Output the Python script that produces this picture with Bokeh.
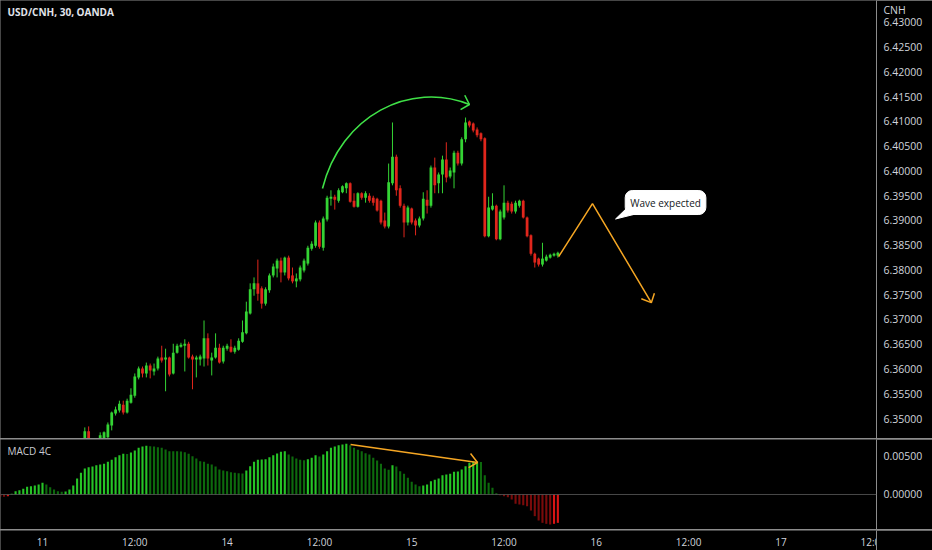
from bokeh.plotting import figure
from bokeh.layouts import column
from bokeh.models import (ColumnDataSource, Range1d, FixedTicker, PrintfTickFormatter,
                          Label, Span)
from bokeh.core.properties import value
from bokeh.embed import file_html
from bokeh.resources import INLINE

# ---------------- data (30-min bars, index 0 = "11" 00:00) ----------------
first_bar = 11
opens = [6.3452, 6.3474, 6.3456, 6.3435, 6.3449, 6.3454, 6.3462, 6.3486, 6.3510, 6.3516,
         6.3528, 6.3512, 6.3532, 6.3546, 6.3583, 6.3601, 6.3591, 6.3607, 6.3595, 6.3601,
         6.3623, 6.3619, 6.3623, 6.3591, 6.3633, 6.3645, 6.3647, 6.3651, 6.3625, 6.3619,
         6.3619, 6.3621, 6.3662, 6.3617, 6.3623, 6.3643, 6.3615, 6.3641, 6.3645, 6.3635,
         6.3639, 6.3655, 6.3672, 6.3712, 6.3761, 6.3773, 6.3763, 6.3732, 6.3759, 6.3789,
         6.3803, 6.3819, 6.3795, 6.3825, 6.3789, 6.3777, 6.3781, 6.3799, 6.3813, 6.3843,
         6.3849, 6.3896, 6.3845, 6.3902, 6.3944, 6.3948, 6.3940, 6.3957, 6.3965, 6.3975,
         6.3940, 6.3928, 6.3955, 6.3946, 6.3950, 6.3946, 6.3944, 6.3940, 6.3900, 6.3888,
         6.3975, 6.4029, 6.3965, 6.3930, 6.3896, 6.3924, 6.3900, 6.3890, 6.3904, 6.3942,
         6.3930, 6.4007, 6.3975, 6.3993, 6.4023, 6.3989, 6.3997, 6.4037, 6.4015, 6.4064,
         6.4100, 6.4096, 6.4084, 6.4076, 6.4066, 6.3868, 6.3922, 6.3930, 6.3862, 6.3906,
         6.3936, 6.3934, 6.3918, 6.3930, 6.3940, 6.3906, 6.3870, 6.3833, 6.3823, 6.3811,
         6.3819, 6.3825, 6.3829, 6.3829]
highs = [6.3482, 6.3484, 6.3457, 6.3458, 6.3472, 6.3474, 6.3492, 6.3514, 6.3524, 6.3536,
         6.3536, 6.3540, 6.3561, 6.3591, 6.3605, 6.3605, 6.3613, 6.3611, 6.3611, 6.3625,
         6.3647, 6.3641, 6.3625, 6.3651, 6.3651, 6.3653, 6.3660, 6.3655, 6.3629, 6.3627,
         6.3629, 6.3698, 6.3672, 6.3633, 6.3672, 6.3651, 6.3647, 6.3651, 6.3660, 6.3647,
         6.3662, 6.3698, 6.3736, 6.3773, 6.3785, 6.3821, 6.3767, 6.3765, 6.3793, 6.3813,
         6.3823, 6.3825, 6.3827, 6.3829, 6.3805, 6.3793, 6.3809, 6.3823, 6.3849, 6.3858,
         6.3900, 6.3900, 6.3908, 6.3950, 6.3961, 6.3952, 6.3965, 6.3971, 6.3977, 6.3977,
         6.3955, 6.3957, 6.3957, 6.3959, 6.3955, 6.3950, 6.3946, 6.3942, 6.3916, 6.4015,
         6.4098, 6.4033, 6.3971, 6.3934, 6.3930, 6.3926, 6.3904, 6.3908, 6.3957, 6.3961,
         6.4011, 6.4027, 6.3997, 6.4031, 6.4058, 6.4007, 6.4041, 6.4041, 6.4068, 6.4108,
         6.4102, 6.4098, 6.4088, 6.4078, 6.4068, 6.3948, 6.3955, 6.3932, 6.3922, 6.3971,
         6.3940, 6.3938, 6.3940, 6.3942, 6.3942, 6.3908, 6.3872, 6.3835, 6.3825, 6.3855,
         6.3831, 6.3833, 6.3835, 6.3837]
lows = [6.3445, 6.3447, 6.3425, 6.3431, 6.3443, 6.3447, 6.3456, 6.3476, 6.3506, 6.3512,
        6.3508, 6.3510, 6.3530, 6.3542, 6.3579, 6.3583, 6.3583, 6.3581, 6.3587, 6.3597,
        6.3613, 6.3555, 6.3585, 6.3589, 6.3631, 6.3643, 6.3595, 6.3621, 6.3559, 6.3583,
        6.3607, 6.3605, 6.3607, 6.3587, 6.3621, 6.3611, 6.3611, 6.3637, 6.3633, 6.3631,
        6.3637, 6.3653, 6.3670, 6.3710, 6.3748, 6.3738, 6.3722, 6.3728, 6.3754, 6.3785,
        6.3785, 6.3775, 6.3789, 6.3779, 6.3773, 6.3765, 6.3777, 6.3795, 6.3809, 6.3839,
        6.3845, 6.3843, 6.3839, 6.3898, 6.3930, 6.3922, 6.3936, 6.3955, 6.3955, 6.3936,
        6.3926, 6.3926, 6.3942, 6.3936, 6.3936, 6.3930, 6.3918, 6.3892, 6.3884, 6.3884,
        6.3971, 6.3950, 6.3926, 6.3866, 6.3890, 6.3892, 6.3870, 6.3886, 6.3900, 6.3914,
        6.3926, 6.3955, 6.3955, 6.3955, 6.3977, 6.3985, 6.3965, 6.4011, 6.4011, 6.4058,
        6.4088, 6.4078, 6.4068, 6.4060, 6.3866, 6.3866, 6.3920, 6.3860, 6.3860, 6.3902,
        6.3916, 6.3914, 6.3914, 6.3926, 6.3904, 6.3866, 6.3829, 6.3805, 6.3807, 6.3807,
        6.3817, 6.3823, 6.3827, 6.3825]
closes = [6.3474, 6.3456, 6.3431, 6.3454, 6.3466, 6.3472, 6.3488, 6.3512, 6.3518, 6.3530,
          6.3512, 6.3536, 6.3548, 6.3585, 6.3601, 6.3591, 6.3607, 6.3597, 6.3601, 6.3621,
          6.3617, 6.3623, 6.3589, 6.3633, 6.3647, 6.3649, 6.3651, 6.3623, 6.3619, 6.3623,
          6.3625, 6.3662, 6.3621, 6.3623, 6.3643, 6.3613, 6.3643, 6.3647, 6.3635, 6.3643,
          6.3657, 6.3674, 6.3716, 6.3761, 6.3773, 6.3752, 6.3732, 6.3761, 6.3789, 6.3807,
          6.3819, 6.3795, 6.3825, 6.3783, 6.3777, 6.3783, 6.3805, 6.3819, 6.3845, 6.3853,
          6.3896, 6.3847, 6.3904, 6.3946, 6.3948, 6.3942, 6.3961, 6.3969, 6.3975, 6.3938,
          6.3928, 6.3955, 6.3946, 6.3955, 6.3940, 6.3936, 6.3920, 6.3896, 6.3888, 6.3977,
          6.4029, 6.3961, 6.3930, 6.3896, 6.3926, 6.3896, 6.3890, 6.3904, 6.3944, 6.3930,
          6.4007, 6.3971, 6.3993, 6.4023, 6.3987, 6.4001, 6.4037, 6.4015, 6.4064, 6.4098,
          6.4092, 6.4082, 6.4072, 6.4064, 6.3868, 6.3926, 6.3930, 6.3862, 6.3918, 6.3936,
          6.3920, 6.3918, 6.3936, 6.3940, 6.3906, 6.3868, 6.3833, 6.3815, 6.3811, 6.3823,
          6.3827, 6.3831, 6.3833, 6.3835]

# MACD 4C histogram, bars from index -11
macd_first = -11
macd_hist = [-0.00026, -0.00031, -0.00022, 0.00009, 0.00044, 0.00057, 0.00075, 0.00101, 0.00110, 0.00118,
             0.00132, 0.00154, 0.00132, 0.00096, 0.00066, 0.00044, 0.00035, 0.00039, 0.00066, 0.00118,
             0.00211, 0.00285, 0.00342, 0.00360, 0.00368, 0.00386, 0.00395, 0.00404, 0.00430, 0.00456,
             0.00491, 0.00518, 0.00535, 0.00533, 0.00553, 0.00579, 0.00614, 0.00632, 0.00640, 0.00636,
             0.00632, 0.00623, 0.00614, 0.00592, 0.00570, 0.00569, 0.00568, 0.00565, 0.00557, 0.00535,
             0.00504, 0.00474, 0.00439, 0.00430, 0.00404, 0.00395, 0.00368, 0.00329, 0.00316, 0.00307,
             0.00294, 0.00285, 0.00281, 0.00276, 0.00316, 0.00373, 0.00430, 0.00456, 0.00461, 0.00465,
             0.00491, 0.00518, 0.00539, 0.00561, 0.00570, 0.00526, 0.00500, 0.00474, 0.00456, 0.00452,
             0.00465, 0.00482, 0.00518, 0.00500, 0.00526, 0.00570, 0.00614, 0.00632, 0.00649, 0.00658,
             0.00667, 0.00649, 0.00614, 0.00588, 0.00570, 0.00544, 0.00526, 0.00482, 0.00447, 0.00404,
             0.00342, 0.00325, 0.00386, 0.00368, 0.00307, 0.00272, 0.00219, 0.00167, 0.00132, 0.00110,
             0.00118, 0.00132, 0.00175, 0.00193, 0.00211, 0.00254, 0.00263, 0.00272, 0.00298, 0.00303,
             0.00329, 0.00373, 0.00417, 0.00430, 0.00435, 0.00428, 0.00254, 0.00154, 0.00088, 0.00018,
             -0.00009, -0.00022, -0.00035, -0.00066, -0.00123, -0.00132, -0.00140, -0.00154, -0.00211, -0.00285,
             -0.00342, -0.00373, -0.00386, -0.00395, -0.00386, -0.00373]

# axis ticks / labels
price_ticks = [6.350, 6.355, 6.360, 6.365, 6.370, 6.375, 6.380, 6.385, 6.390,
               6.395, 6.400, 6.405, 6.410, 6.415, 6.420, 6.425, 6.430]
currency_tick = 6.43242          # where the "CNH" scale tag sits
currency_text = "CNH"
macd_ticks = [0.0, 0.005]
time_ticks = [0, 24, 48, 72, 96, 120, 144, 168, 192, 216]
time_labels = ["11", "12:00", "14", "12:00", "15", "12:00", "16", "12:00", "17", "12:00"]

# drawings (bar index, price / macd value)
arc_ctrl = [(72.8, 6.39646), (77.48, 6.41121), (95.68, 6.41828), (111.0, 6.41343)]
arc_head = [(109.8, 6.4153), (111.0, 6.41343), (108.7, 6.4124)]
wave_x = [134.2, 143.0, 158.3]
wave_y = [6.3827, 6.3934, 6.3734]
wave_head_x = [155.7, 158.3, 159.1]
wave_head_y = [6.3742, 6.3734, 6.3753]
macd_arrow_x = [80.1, 113.1]
macd_arrow_y = [0.00658, 0.00421]
macd_head_x = [111.3, 113.1, 110.8]
macd_head_y = [0.00539, 0.00421, 0.00353]
callout_text = "Wave expected"
callout_pos = (162.0, 6.39363)
callout_tail_x = [151.8, 149.0, 154.7]
callout_tail_y = [6.3924, 6.3903, 6.3914]
title_text = "USD/CNH, 30, OANDA"
indicator_text = "MACD 4C"

# ---------------- styling ----------------
BG = "#000000"
SEP = "#8c8c8c"
TXT = "#d1d4dc"
FONT = "Open Sans"
UP = "#34d334"
DOWN = "#e0261c"
LIME = "#26c426"
DKGREEN = "#0d6a0d"
RED = "#d91414"
MAROON = "#7a0b0b"
ORANGE = "#f5a623"
ARC_GREEN = "#3fe047"

x_range = Range1d(-10.92, 216.85)


def style_y_axis(ax, size="10.5px"):
    ax.axis_line_color = SEP
    ax.major_tick_line_color = None
    ax.minor_tick_line_color = None
    ax.major_tick_out = 0
    ax.minor_tick_out = 0
    ax.major_label_text_color = TXT
    ax.major_label_text_font = FONT
    ax.major_label_text_font_size = size
    ax.major_label_standoff = 7


def make_fig(height, y_range):
    f = figure(width=932, height=height, x_range=x_range, y_range=y_range,
               output_backend="svg", toolbar_location=None,
               x_axis_location=None, y_axis_location="right",
               min_border_left=0, min_border_right=56, min_border_top=0, min_border_bottom=0,
               background_fill_color=BG, border_fill_color=BG, outline_line_color=None)
    f.grid.visible = False
    return f


# ---------------- price pane ----------------
price = make_fig(438, Range1d(6.34596, 6.43444))
ya = price.yaxis[0]
ya.ticker = FixedTicker(ticks=price_ticks + [currency_tick])
ya.formatter = PrintfTickFormatter(format="%.5f")
ya.major_label_overrides = {currency_tick: currency_text}
style_y_axis(ya)

xs = list(range(first_bar, first_bar + len(opens)))


def cs(sel):
    return ColumnDataSource(dict(
        x=[xs[k] for k in sel],
        top=[max(opens[k], closes[k]) for k in sel],
        bottom=[min(opens[k], closes[k]) for k in sel],
        high=[highs[k] for k in sel],
        low=[lows[k] for k in sel]))


up_sel = [k for k in range(len(opens)) if closes[k] >= opens[k]]
dn_sel = [k for k in range(len(opens)) if closes[k] < opens[k]]
for sel, col in ((up_sel, UP), (dn_sel, DOWN)):
    src = cs(sel)
    price.segment(x0="x", y0="high", x1="x", y1="low", source=src, line_color=col, line_width=1)
    price.vbar(x="x", width=0.72, top="top", bottom="bottom", source=src,
               fill_color=col, line_color=None)

# curved green arrow
(a0, a1, a2, a3) = arc_ctrl
price.bezier(x0=[a0[0]], y0=[a0[1]], x1=[a3[0]], y1=[a3[1]],
             cx0=[a1[0]], cy0=[a1[1]], cx1=[a2[0]], cy1=[a2[1]],
             line_color=ARC_GREEN, line_width=1.6)
price.line([p[0] for p in arc_head], [p[1] for p in arc_head], line_color=ARC_GREEN, line_width=1.6)

# orange expected wave
price.line(wave_x, wave_y, line_color=ORANGE, line_width=1.5)
price.line(wave_head_x, wave_head_y, line_color=ORANGE, line_width=1.5)

# callout
price.patch(callout_tail_x, callout_tail_y, fill_color="white", line_color="white")
price.add_layout(Label(x=callout_pos[0], y=callout_pos[1], text=callout_text,
                       text_align="center", text_baseline="middle",
                       text_font=FONT, text_font_size="10px", text_color="#131722",
                       background_fill_color="white", border_line_color="white",
                       padding=5, border_radius=7))

# chart title
price.add_layout(Label(x=-9.1, y=6.43202, text=title_text, text_align="left",
                       text_baseline="middle", text_font=FONT, text_font_size="10px",
                       text_font_style="bold", text_color="#e0e3eb"))

# ---------------- MACD pane ----------------
macd = make_fig(90, Range1d(-0.0046053, 0.0072368))
my = macd.yaxis[0]
my.ticker = FixedTicker(ticks=macd_ticks)
my.formatter = PrintfTickFormatter(format="%.5f")
style_y_axis(my)

mxs = list(range(macd_first, macd_first + len(macd_hist)))
mcol = []
for k, v in enumerate(macd_hist):
    prev = macd_hist[k - 1] if k > 0 else v
    if v >= 0:
        mcol.append(LIME if v > prev else DKGREEN)
    else:
        mcol.append(MAROON if v < prev else RED)
msrc = ColumnDataSource(dict(x=mxs, top=macd_hist, color=mcol))
macd.vbar(x="x", width=0.55, top="top", bottom=0, source=msrc, fill_color="color", line_color=None)
macd.add_layout(Span(location=0, dimension="width", line_color="#5a5a5a", line_width=1, line_alpha=0.8))

macd.line(macd_arrow_x, macd_arrow_y, line_color=ORANGE, line_width=1.5)
macd.line(macd_head_x, macd_head_y, line_color=ORANGE, line_width=1.5)

macd.add_layout(Label(x=-9.1, y=0.005658, text=indicator_text, text_align="left",
                      text_baseline="middle", text_font=FONT, text_font_size="10px",
                      text_color="#c8cad0"))

# ---------------- time scale row ----------------
timefig = make_fig(20, Range1d(0, 20))
ty = timefig.yaxis[0]
ty.ticker = FixedTicker(ticks=[])
style_y_axis(ty)
timefig.text(x=time_ticks, y=[9] * len(time_ticks), text=time_labels,
             text_align="center", text_baseline="middle",
             text_font=value(FONT), text_font_size="10px", text_color=TXT)

layout = column(price, macd, timefig, spacing=1, styles={"background-color": SEP})

html = file_html(layout, INLINE, title="USD/CNH, 30, OANDA")
html = html.replace("</head>", "<style>html,body{background-color:#000000;}</style></head>", 1)
open("out.html", "w").write(html)
